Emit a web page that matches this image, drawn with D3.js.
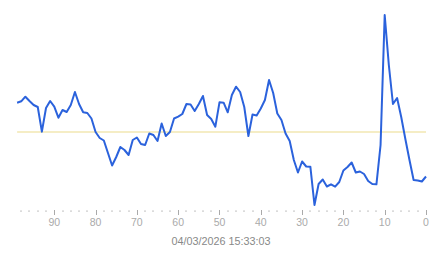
<!DOCTYPE html>
<html>
  <head>
    <meta charset="utf-8">
    <style>
      body { margin: 0; background: #fff; }
      text { font-family: "Liberation Sans", Arial, sans-serif; }
    </style>
  </head>
  <body>
    <svg width="443" height="258"></svg>
    <script src="https://d3js.org/d3.v7.min.js"></script>
    <script>
      // minutes ago (99 .. 0) and the reading at each
      var ago = d3.range(99, -1, -1);
      var values = [
        29.3, 30.7, 35.3, 31, 27, 25, 0.3, 24, 31, 25.3,
        14.3, 22, 20, 27, 40, 28, 19.7, 19, 13.5, 0,
        -6, -8.5, -21, -33.5, -25, -15, -18, -23, -8, -5.5,
        -12, -13, -1.5, -3, -9, 8.5, -4, 0, 13.5, 15.3,
        18, 28, 27.5, 21, 28, 36, 17, 13, 5.3, 29.7,
        29.3, 19.7, 37, 45.3, 40, 25, -4, 17.5, 16.5, 23.5,
        32, 52, 39, 18.5, 12, -1.5, -9, -28, -40.5, -29.5,
        -34.5, -34.7, -73, -52, -47.5, -54.5, -52.3, -54.7, -50, -38.5,
        -35, -30.5, -40.5, -39.5, -42, -49, -52, -52.3, -13, 117,
        67, 28, 34, 15, -7, -28, -48, -48.5, -49.5, -44.5
      ];
      var baseline = 0;
      var majorTicks = [90, 80, 70, 60, 50, 40, 30, 20, 10, 0];
      var minorTicks = d3.range(98, 0, -2).filter(function(d) { return d % 10 !== 0; });
      var stamp = "04/03/2026 15:33:03";

      var svg = d3.select("svg");

      var x = d3.scaleLinear().domain([99, 0]).range([17.1, 426]);
      var y = d3.scaleLinear().domain([-78, 120]).range([210, 12]);

      var data = ago.map(function(a, i) { return { a: a, v: values[i] }; });

      // reference line
      svg.append("line")
        .attr("x1", x(99)).attr("x2", x(0))
        .attr("y1", y(baseline)).attr("y2", y(baseline))
        .attr("stroke", "#ecdc8c")
        .attr("stroke-width", 1.2);

      var line = d3.line()
        .x(function(d) { return x(d.a); })
        .y(function(d) { return y(d.v); });

      svg.append("path")
        .datum(data)
        .attr("fill", "none")
        .attr("stroke", "#2b62dc")
        .attr("stroke-width", 2)
        .attr("stroke-linejoin", "round")
        .attr("d", line);

      // axis
      var axis = svg.append("g").attr("transform", "translate(0,210)");

      axis.selectAll(".minor")
        .data(minorTicks)
        .enter().append("rect")
        .attr("x", function(d) { return Math.round(x(d)) - 0.5; })
        .attr("y", 0.5)
        .attr("width", 1)
        .attr("height", 1.2)
        .attr("fill", "#999");

      axis.selectAll(".major")
        .data(majorTicks)
        .enter().append("line")
        .attr("x1", function(d) { return Math.round(x(d)) + 0.5; })
        .attr("x2", function(d) { return Math.round(x(d)) + 0.5; })
        .attr("y1", 0)
        .attr("y2", 5)
        .attr("stroke", "#aaa");

      axis.selectAll(".lbl")
        .data(majorTicks)
        .enter().append("text")
        .attr("x", function(d) { return x(d); })
        .attr("y", 16)
        .attr("text-anchor", "middle")
        .attr("font-size", "10.5px")
        .attr("fill", "#aaa")
        .text(function(d) { return d; });

      svg.append("text")
        .attr("x", 221)
        .attr("y", 245)
        .attr("text-anchor", "middle")
        .attr("font-size", "10.8px")
        .attr("fill", "#888")
        .text(stamp);
    </script>
  </body>
</html>
